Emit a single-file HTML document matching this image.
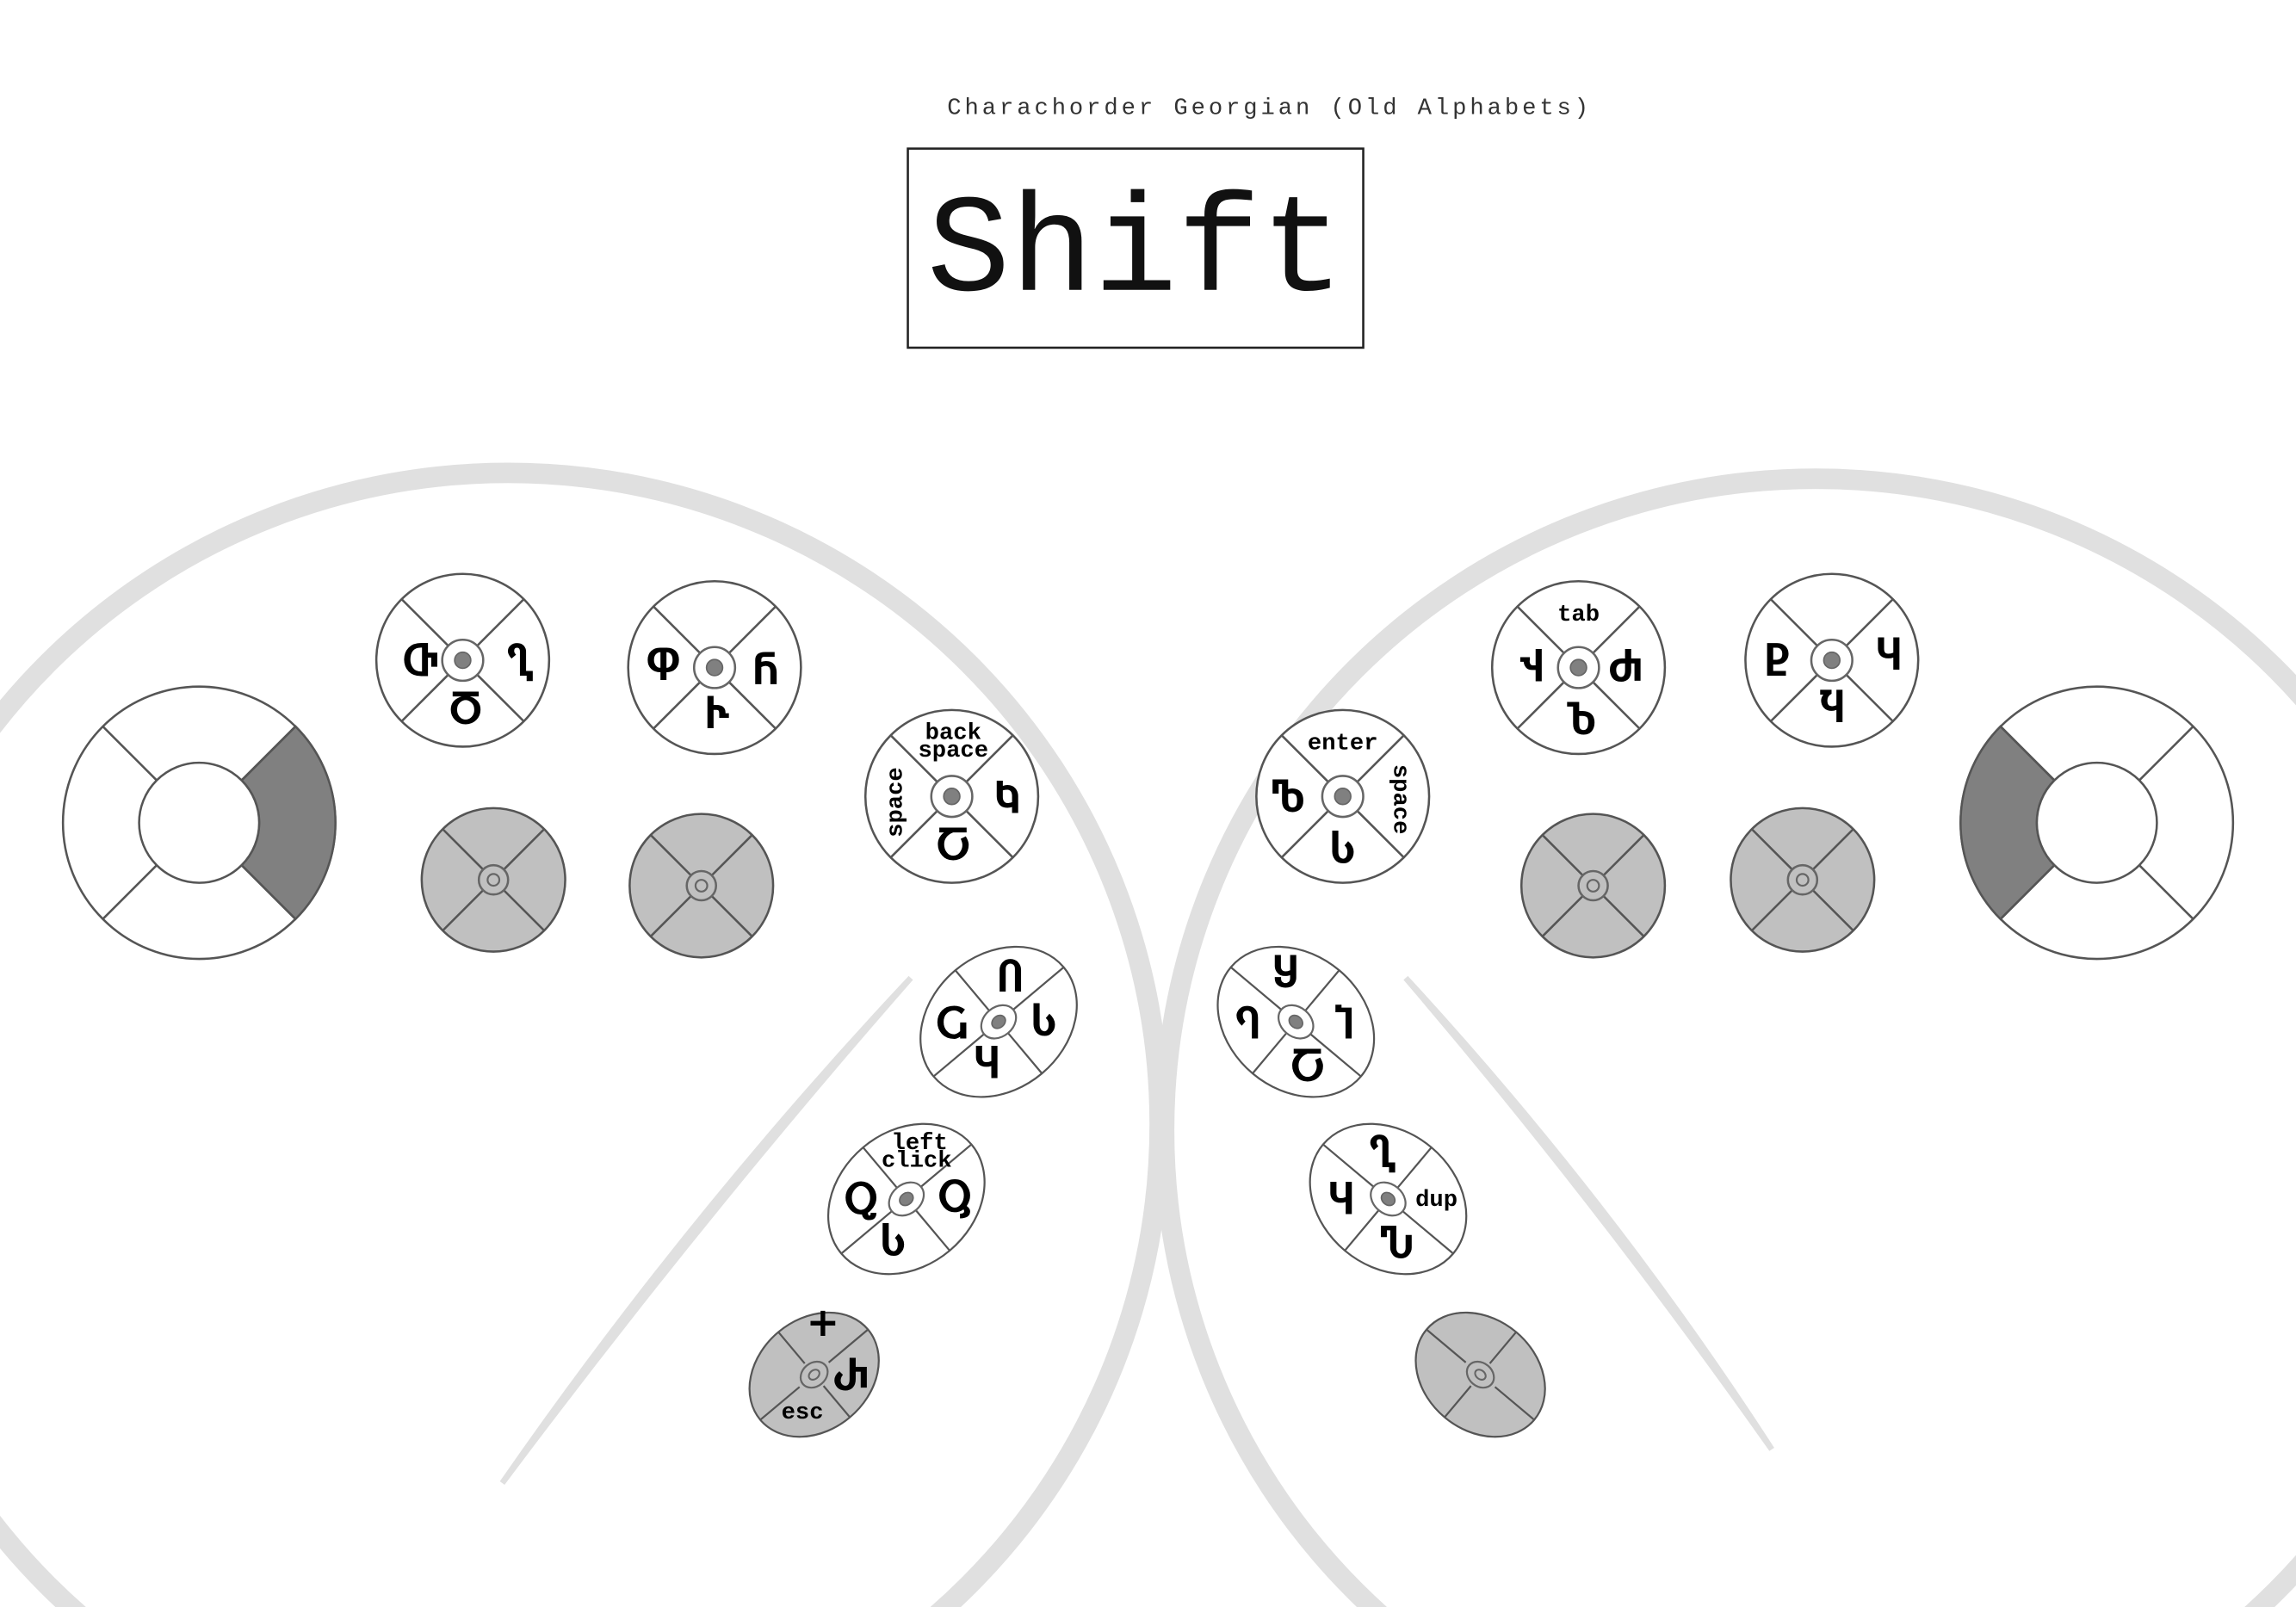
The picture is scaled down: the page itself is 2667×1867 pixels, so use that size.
<!DOCTYPE html>
<html><head><meta charset="utf-8"><style>
html,body{margin:0;padding:0;background:#fff;width:2667px;height:1867px;overflow:hidden;}
svg{display:block;}
.ch{font-family:"DejaVu Sans","Liberation Sans",sans-serif;font-weight:bold;font-size:27px;fill:#000;}
.lb{font-family:"Liberation Mono",monospace;font-weight:bold;font-size:16px;fill:#000;}
</style></head><body>
<svg width="2667" height="1867" viewBox="0 0 1568 1097.7" preserveAspectRatio="none" xmlns="http://www.w3.org/2000/svg" style="overflow:hidden">
<rect width="1568" height="1098" fill="#fff"/>
<text x="867" y="78" text-anchor="middle" font-family="Liberation Mono, monospace" font-size="16" letter-spacing="2.3" fill="#333">Charachorder Georgian (Old Alphabets)</text>
<rect x="620" y="101.5" width="311" height="136" fill="#fff" stroke="#222" stroke-width="1.5"/>
<text x="775.5" y="198" text-anchor="middle" font-family="Liberation Mono, monospace" font-size="95" fill="#111">Shift</text>

<circle cx="347" cy="768" r="445" fill="none" stroke="#e0e0e0" stroke-width="14"/>
<circle cx="1240" cy="772" r="445" fill="none" stroke="#e0e0e0" stroke-width="14"/>
<path d="M622,668 Q480,830 343,1013 Q470,830 622,668 Z" fill="#e0e0e0" stroke="#e0e0e0" stroke-width="4"/>
<path d="M960,668 Q1090,820 1210,990 Q1100,820 960,668 Z" fill="#e0e0e0" stroke="#e0e0e0" stroke-width="4"/>

<g id="keys"></g>
</svg>
<script>
const NS="http://www.w3.org/2000/svg";
const root=document.getElementById('keys');
function mk(tag,attrs,parent){const e=document.createElementNS(NS,tag);for(const k in attrs)e.setAttribute(k,attrs[k]);(parent||root).appendChild(e);return e;}
function txt(x,y,s,cls,parent,rot){const t=mk('text',{x:x,y:y,'text-anchor':'middle','dominant-baseline':'central','class':cls},parent);
 if(rot)t.setAttribute('transform','rotate('+rot+' '+x+' '+y+')');t.textContent=s;
 
 
 return t;}

function ring(cx,cy,dark){
 const g=mk('g',{});
 
 
 const R=93,r=41;
 mk('circle',{cx:cx,cy:cy,r:R,fill:'#fff',stroke:'#555','stroke-width':1.5},g);
 const a0=dark==='right'?-Math.PI/4:Math.PI*3/4, a1=a0+Math.PI/2;
 const p=(a,rr)=>(cx+rr*Math.cos(a)).toFixed(1)+','+(cy+rr*Math.sin(a)).toFixed(1);
 mk('path',{d:'M'+p(a0,R)+' A'+R+','+R+' 0 0 1 '+p(a1,R)+' L'+p(a1,r)+' A'+r+','+r+' 0 0 0 '+p(a0,r)+'Z',fill:'#808080',stroke:'#555','stroke-width':1.5},g);
 for(let i=0;i<4;i++){const a=Math.PI/4+i*Math.PI/2;mk('line',{x1:cx+r*Math.cos(a),y1:cy+r*Math.sin(a),x2:cx+R*Math.cos(a),y2:cy+R*Math.sin(a),stroke:'#555','stroke-width':1.5},g);}
 mk('circle',{cx:cx,cy:cy,r:r,fill:'#fff',stroke:'#555','stroke-width':1.5},g);
}
ring(136,562,'right');
ring(1432,562,'left');

function key(cx,cy,r,gray,labels){
 const g=mk('g',{});
 
 
 mk('circle',{cx:cx,cy:cy,r:r,fill:gray?'#c0c0c0':'#fff',stroke:'#555','stroke-width':1.5},g);
 const ir=gray?10:14;
 for(let i=0;i<4;i++){const a=Math.PI/4+i*Math.PI/2;mk('line',{x1:cx+ir*Math.cos(a),y1:cy+ir*Math.sin(a),x2:cx+r*Math.cos(a),y2:cy+r*Math.sin(a),stroke:'#555','stroke-width':1.5},g);}
 mk('circle',{cx:cx,cy:cy,r:ir,fill:gray?'#c0c0c0':'#fff',stroke:'#666','stroke-width':1.5},g);
 if(gray) mk('circle',{cx:cx,cy:cy,r:4,fill:'none',stroke:'#666','stroke-width':1.3},g);
 else mk('circle',{cx:cx,cy:cy,r:5.5,fill:'#808080',stroke:'#666','stroke-width':1},g);
 (labels||[]).forEach(l=>txt(l[0],l[1],l[2],l[3]||'ch',g,l[4]));
}
key(316,451,59,false,[[287,452,'Ⴇ'],[355,452,'Ⴂ'],[318,485,'Ⴃ']]);
key(488,456,59,false,[[453,455,'Ⴔ'],[523,458,'Ⴌ'],[490,488,'Ⴡ']]);
key(337,601,49,true);
key(479,605,49,true);
key(650,544,59,false,[[651,501,'back','lb'],[651,513,'space','lb'],[612,548,'space','lb',-90],[688,546,'Ⴉ'],[651,578,'Ⴀ']]);
key(917,544,59,false,[[917,508,'enter','lb'],[956,546,'space','lb',90],[880,545,'Ⴊ'],[917,580,'Ⴑ']]);
key(1078,456,59,false,[[1078,420,'tab','lb'],[1046,456,'Ⴣ'],[1110,456,'Ⴛ'],[1080,492,'Ⴆ']]);
key(1251,451,59,false,[[1214,452,'Ⴒ'],[1290,448,'Ⴗ'],[1251,484,'Ⴏ']]);
key(1088,605,49,true);
key(1231,601,49,true);

function ekey(cx,cy,rot,gray,labels){
 const g=mk('g',{});
 
 
 const s=mk('g',{transform:'translate('+cx+','+cy+') rotate('+rot+')'},g);
 const rx=gray?48:58, ry=gray?38:46;
 mk('ellipse',{cx:0,cy:0,rx:rx,ry:ry,fill:gray?'#c0c0c0':'#fff',stroke:'#555','stroke-width':1.3},s);
 for(let i=0;i<4;i++){const a=i*Math.PI/2;mk('line',{x1:13*Math.cos(a),y1:10*Math.sin(a),x2:rx*Math.cos(a),y2:ry*Math.sin(a),stroke:'#555','stroke-width':1.3},s);}
 mk('ellipse',{cx:0,cy:0,rx:gray?10:13,ry:gray?8:10,fill:gray?'#c0c0c0':'#fff',stroke:'#666','stroke-width':1.3},s);
 if(gray) mk('ellipse',{cx:0,cy:0,rx:4,ry:3,fill:'none',stroke:'#666','stroke-width':1.2},s);
 else mk('ellipse',{cx:0,cy:0,rx:5,ry:4,fill:'#808080',stroke:'#666','stroke-width':1},s);
 (labels||[]).forEach(l=>txt(l[0],l[1],l[2],l[3]||'ch',g,l[4]));
}
ekey(682,698,-40,false,[[690,668,'Ⴖ'],[650,700,'Ⴚ'],[713,698,'Ⴑ'],[674,727,'Ⴗ']]);
ekey(619,819,-40,false,[[628,781,'left','lb'],[626,793,'click','lb'],[588,820,'Ⴍ'],[652,818,'Ⴓ'],[610,848,'Ⴑ']]);
ekey(556,939,-40,true,[[562,903,'+'],[581,940,'Ⴐ'],[548,965,'esc','lb']]);
ekey(885,698,40,false,[[878,665,'Ⴘ'],[852,700,'Ⴄ'],[918,700,'Ⴈ'],[893,729,'Ⴀ']]);
ekey(948,819,40,false,[[944,788,'Ⴂ'],[916,820,'Ⴗ'],[981,820,'dup','lb'],[954,850,'Ⴠ']]);
ekey(1011,939,40,true);
</script>
</body></html>
